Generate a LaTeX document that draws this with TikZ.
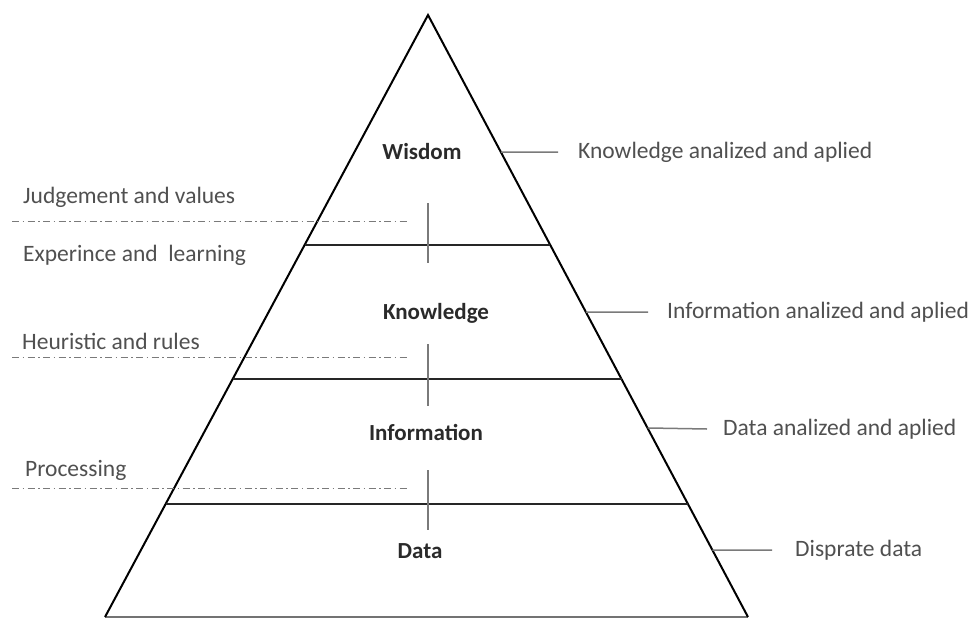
\documentclass[tikz,border=0pt]{standalone}
\usepackage{fontspec}
\setmainfont{Carlito}
\usetikzlibrary{calc}
\definecolor{txtgray}{HTML}{505050}
\definecolor{lblgray}{HTML}{2A2A2A}
\definecolor{linegray}{HTML}{7A7A7A}
\tikzset{
  side/.style={line width=2pt, black},
  level/.style={line width=2pt, black!85},
  basel/.style={line width=2pt, black!55},
  sep/.style={line width=0.9pt, linegray, dash pattern=on 7pt off 3.5pt on 1.5pt off 3.5pt},
  vtick/.style={line width=1.3pt, linegray},
  htick/.style={line width=1.5pt, linegray},
  note/.style={text=txtgray, font=\fontsize{23.5}{27}\selectfont, inner sep=0pt, anchor=west},
  lvl/.style={text=lblgray, font=\fontsize{23}{27}\selectfont\bfseries, inner sep=0pt},
}
\begin{document}
\begin{tikzpicture}[x=1pt,y=-1pt]
\useasboundingbox (0,0) rectangle (978,619);
\fill[white] (0,0) rectangle (978,619);
\coordinate (apex) at (428,15);
\coordinate (bl) at (105,617);
\coordinate (br) at (748,617);
% pyramid
\draw[basel] (bl) -- (br);
\draw[side, line join=miter] (bl) -- (apex) -- (br);
% level lines
\draw[level] ($(apex)!0.3821!(bl)$) -- ($(apex)!0.3821!(br)$);
\draw[level] ($(apex)!0.6047!(bl)$) -- ($(apex)!0.6047!(br)$);
\draw[level] ($(apex)!0.8123!(bl)$) -- ($(apex)!0.8123!(br)$);
% separators (dash-dot)
\coordinate (s1a) at (12,221); \coordinate (s1b) at (410,221);
\coordinate (s2a) at (12,357); \coordinate (s2b) at (410,357);
\coordinate (s3a) at (12,488); \coordinate (s3b) at (410,488);
\draw[sep] (s1a) -- (s1b);
\draw[sep] (s2a) -- (s2b);
\draw[sep] (s3a) -- (s3b);
% vertical ticks
\coordinate (v1a) at (428,203); \coordinate (v1b) at (428,263);
\coordinate (v2a) at (428,344); \coordinate (v2b) at (428,406);
\coordinate (v3a) at (428,470); \coordinate (v3b) at (428,530);
\draw[vtick] (v1a) -- (v1b);
\draw[vtick] (v2a) -- (v2b);
\draw[vtick] (v3a) -- (v3b);
% level labels
\node[lvl] (wis) at (422,152) {Wisdom};
\node[lvl] (kno) at (436,313) {Knowledge};
\node[lvl] (inf) at (426,432) {Information};
\node[lvl] (dat) at (420,551) {Data};
% left notes
\node[note] (n1) at (23,197) {Judgement and values};
\node[note] (n2) at (23,255) {Experince and\ \ learning};
\node[note] (n3) at (22,341) {Heuristic and rules};
\node[note] (n4) at (25,470) {Processing};
% right notes
\node[note] (r1) at (578,152) {Knowledge analized and aplied};
\node[note] (r2) at (667,312) {Information analized and aplied};
\node[note] (r3) at (723,429) {Data analized and aplied};
\node[note] (r4) at (795,550) {Disprate data};
\draw[htick] ($(apex)!0.2276!(br)$) -- ([xshift=-20pt]r1.west);
\draw[htick] ($(apex)!0.4934!(br)$) -- ([xshift=-19pt]r2.west);
\draw[htick] ($(apex)!0.6860!(br)$) -- ([xshift=-16pt]r3.west);
\draw[htick] ($(apex)!0.8887!(br)$) -- ([xshift=-23pt]r4.west);
\end{tikzpicture}
\end{document}
